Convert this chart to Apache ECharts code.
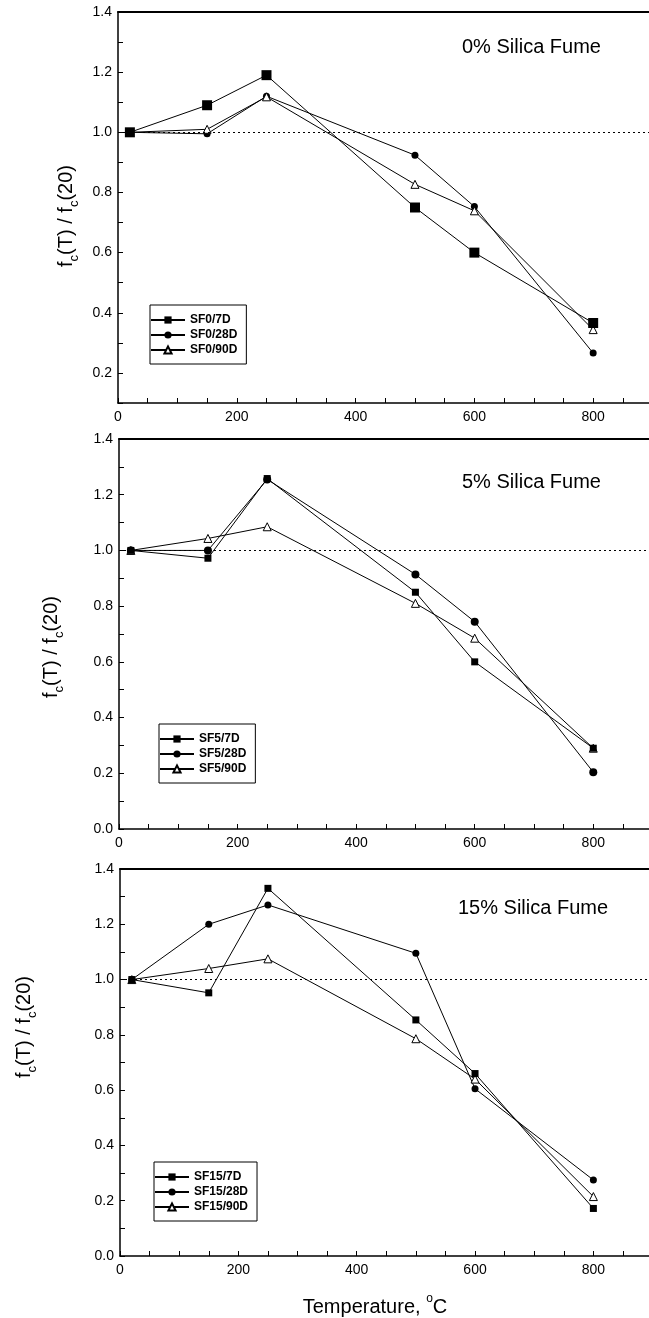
<!DOCTYPE html>
<html>
<head>
<meta charset="utf-8">
<script src="https://cdn.jsdelivr.net/npm/echarts@6/dist/echarts.min.js"></script>
<style>
  html, body { margin: 0; padding: 0; background: #fff; }
  #chart { width: 649px; height: 1318px; }
</style>
</head>
<body>
<div id="chart"></div>
<script>
const temps = [20, 150, 250, 500, 600, 800]

const sf0_7d = [1.0, 1.09, 1.19, 0.75, 0.60, 0.366]
const sf0_28d = [1.0, 0.995, 1.12, 0.924, 0.753, 0.266]
const sf0_90d = [1.0, 1.01, 1.118, 0.827, 0.739, 0.344]

const sf5_7d = [1.0, 0.972, 1.258, 0.85, 0.60, 0.29]
const sf5_28d = [1.0, 1.0, 1.255, 0.914, 0.744, 0.204]
const sf5_90d = [1.0, 1.043, 1.085, 0.81, 0.685, 0.29]

const sf15_7d = [1.0, 0.952, 1.33, 0.854, 0.66, 0.172]
const sf15_28d = [1.0, 1.20, 1.27, 1.095, 0.605, 0.275]
const sf15_90d = [1.0, 1.04, 1.075, 0.786, 0.64, 0.215]

const panelTitles = ['0% Silica Fume', '5% Silica Fume', '15% Silica Fume']
const yMins = [0.1, 0, 0]
// the scanned figure is cropped on the right, a little past 890
const xMax = 894

const FONT = '"Liberation Sans", Arial, sans-serif'

const grids = [
  { left: 118, right: 0, top: 12, height: 391 },
  { left: 119, right: 0, top: 439, height: 390 },
  { left: 120, right: 0, top: 869, height: 387 },
]

function makeSeries(name, values, idx, shape, size, withRef) {
  const s = {
    name,
    type: 'line',
    xAxisIndex: idx,
    yAxisIndex: idx,
    data: temps.map((t, i) => [t, values[i]]),
    symbol: shape,
    symbolSize: size,
    showAllSymbol: true,
    lineStyle: { color: '#000', width: 1 },
    itemStyle: shape === 'triangle'
      ? { color: '#fff', borderColor: '#000', borderWidth: 1 }
      : { color: '#000' },
    z: shape === 'rect' ? 4 : 3,
  }
  if (withRef) {
    s.markLine = {
      silent: true,
      symbol: 'none',
      label: { show: false },
      lineStyle: { color: '#000', type: [2, 3], width: 1 },
      data: [{ yAxis: 1 }],
    }
  }
  return s
}

const series = [
  makeSeries('SF0/7D', sf0_7d, 0, 'rect', 10, true),
  makeSeries('SF0/28D', sf0_28d, 0, 'circle', 7),
  makeSeries('SF0/90D', sf0_90d, 0, 'triangle', 8),
  makeSeries('SF5/7D', sf5_7d, 1, 'rect', 7, true),
  makeSeries('SF5/28D', sf5_28d, 1, 'circle', 8),
  makeSeries('SF5/90D', sf5_90d, 1, 'triangle', 8),
  makeSeries('SF15/7D', sf15_7d, 2, 'rect', 7, true),
  makeSeries('SF15/28D', sf15_28d, 2, 'circle', 7),
  makeSeries('SF15/90D', sf15_90d, 2, 'triangle', 8),
]

const bottomAxes = grids.map((g, i) => ({
  type: 'value',
  gridIndex: i,
  position: 'bottom',
  min: 0,
  max: xMax,
  interval: 50,
  axisLine: { lineStyle: { color: '#000', width: 1.5 } },
  axisTick: { inside: true, length: 5, lineStyle: { color: '#000' } },
  axisLabel: {
    color: '#000',
    fontFamily: FONT,
    fontSize: 14,
    margin: 7,
    showMaxLabel: false,
    formatter: (v) => (v % 200 === 0 && v <= 800 ? String(v) : ''),
  },
  splitLine: { show: false },
}))

const topAxes = grids.map((g, i) => ({
  type: 'value',
  gridIndex: i,
  position: 'top',
  min: 0,
  max: xMax,
  axisLine: { show: true, lineStyle: { color: '#000', width: 2 } },
  axisTick: { show: false },
  axisLabel: { show: false },
  splitLine: { show: false },
}))

const yAxes = grids.map((g, i) => ({
  type: 'value',
  gridIndex: i,
  min: yMins[i],
  max: 1.4,
  interval: 0.1,
  axisLine: { show: true, lineStyle: { color: '#000', width: 1.5 } },
  axisTick: { show: true, inside: true, length: 5, lineStyle: { color: '#000' } },
  axisLabel: {
    color: '#000',
    fontFamily: FONT,
    fontSize: 14,
    margin: 6,
    formatter: (v) => (Math.round(v * 10) % 2 === 0 ? v.toFixed(1) : ''),
  },
  splitLine: { show: false },
}))

const legendPos = [
  { left: 150, top: 305 },
  { left: 159, top: 724 },
  { left: 154, top: 1162 },
]

const legends = legendPos.map((p, i) => ({
  left: p.left,
  top: p.top,
  orient: 'vertical',
  data: series.slice(i * 3, i * 3 + 3).map((s) => s.name),
  itemWidth: 34,
  itemHeight: 9,
  itemGap: 3,
  padding: [9, 9, 8, 0],
  borderColor: '#000',
  borderWidth: 1,
  textStyle: { color: '#000', fontFamily: FONT, fontSize: 12, fontWeight: 'bold' },
}))

const titles = [
  { left: 457, top: 32 },
  { left: 457, top: 467 },
  { left: 453, top: 893 },
].map((p, i) => ({
  text: panelTitles[i],
  left: p.left,
  top: p.top,
  textStyle: { color: '#000', fontFamily: FONT, fontSize: 20, fontWeight: 'normal' },
}))

const yNameRich = {
  a: { fontFamily: FONT, fontSize: 20, fill: '#000', verticalAlign: 'middle' },
  s: { fontFamily: FONT, fontSize: 13, fill: '#000', verticalAlign: 'bottom', lineHeight: 30 },
}
const yNamePos = [[66, 216], [51, 647], [24, 1027]]

const graphics = yNamePos.map(([x, y]) => ({
  type: 'text',
  x,
  y,
  rotation: Math.PI / 2,
  style: {
    text: '{a|f}{s|c}{a|(T) / f}{s|c}{a|(20)}',
    rich: yNameRich,
    align: 'center',
    verticalAlign: 'middle',
  },
}))

graphics.push({
  type: 'text',
  x: 375,
  y: 1305,
  style: {
    text: '{a|Temperature, }{p|o}{a|C}',
    rich: {
      a: { fontFamily: FONT, fontSize: 20, fill: '#000', verticalAlign: 'bottom', lineHeight: 24 },
      p: { fontFamily: FONT, fontSize: 12, fill: '#000', verticalAlign: 'top', lineHeight: 24 },
    },
    align: 'center',
    verticalAlign: 'middle',
  },
})

const chart = echarts.init(document.getElementById('chart'), null, { renderer: 'canvas' })
chart.setOption({
  animation: false,
  backgroundColor: '#fff',
  title: titles,
  legend: legends,
  grid: grids,
  xAxis: bottomAxes.concat(topAxes),
  yAxis: yAxes,
  graphic: graphics,
  series,
})
</script>
</body>
</html>
